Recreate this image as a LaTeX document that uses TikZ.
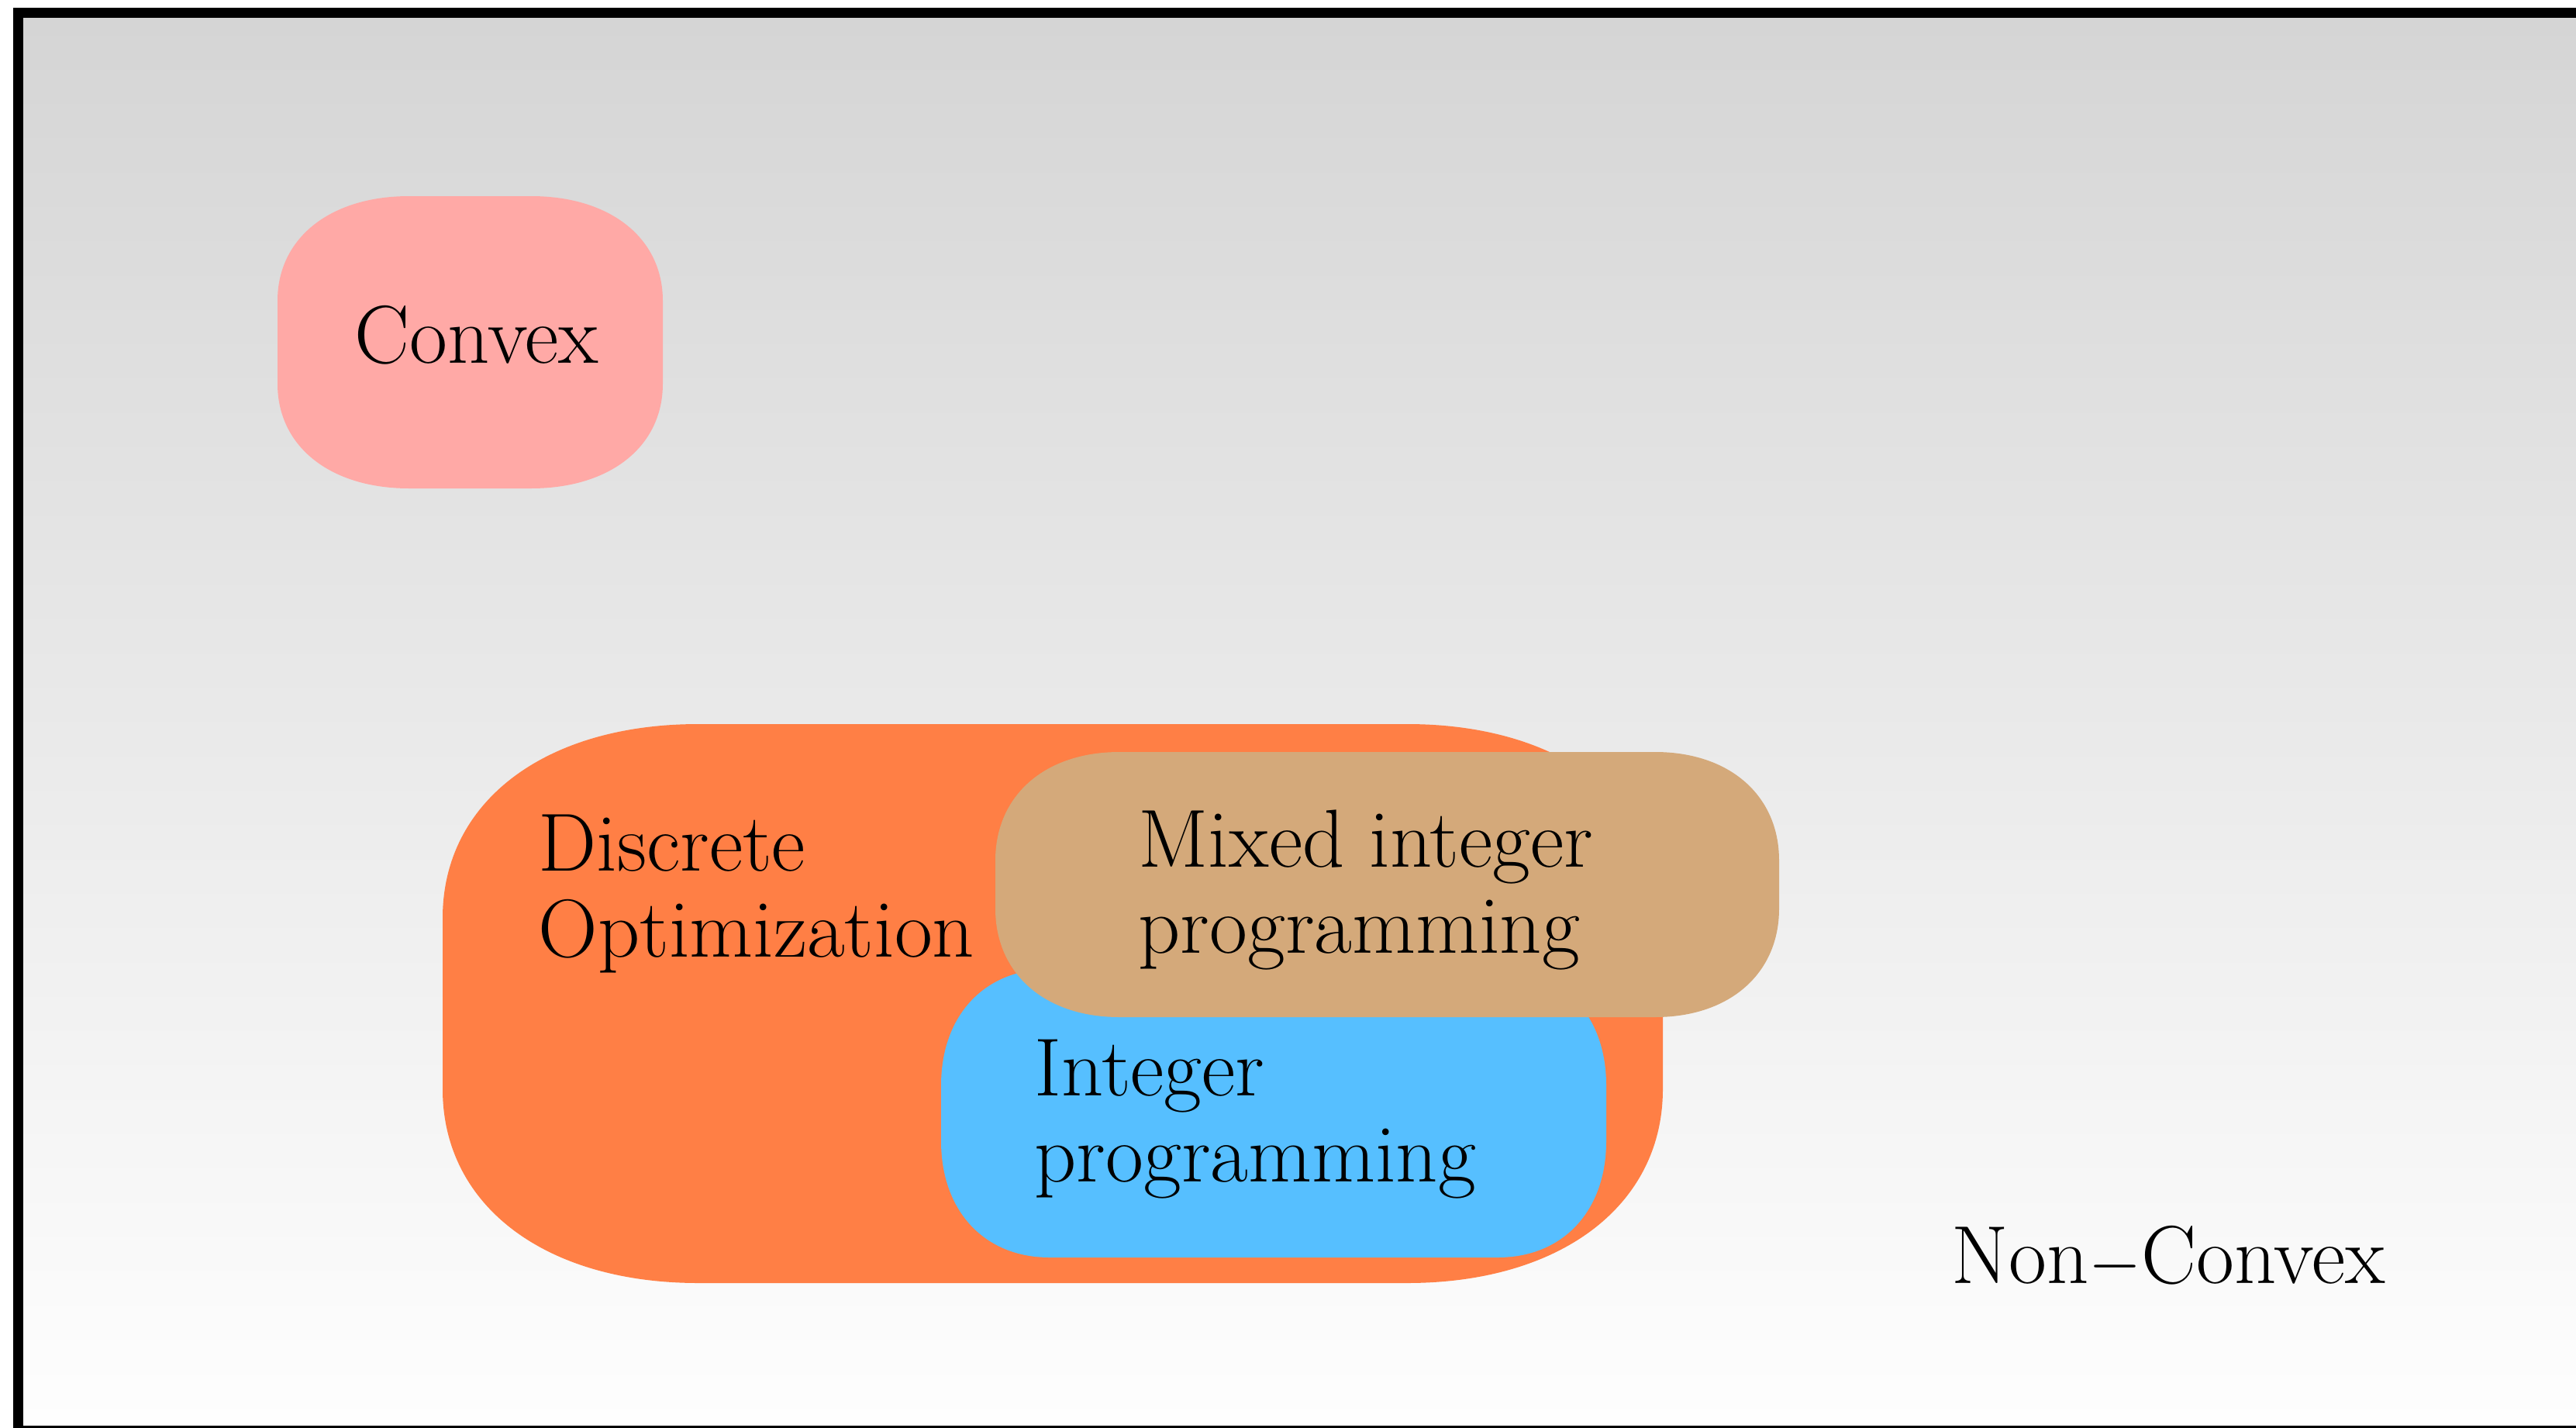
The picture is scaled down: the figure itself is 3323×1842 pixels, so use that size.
\documentclass[tikz,border=0pt]{standalone}
\definecolor{bgtop}{HTML}{D5D5D5}
\definecolor{bgbot}{HTML}{FEFEFE}
\definecolor{convexc}{HTML}{FFA9A6}
\definecolor{discc}{HTML}{FF7F45}
\definecolor{mixc}{HTML}{D4A97A}
\definecolor{intc}{HTML}{56BFFF}
% #1 (opt) 1-k, #2 colour, #3 x1, #4 top, #5 x2, #6 bottom, #7 rx, #8 ry
\newcommand{\softbox}[8][0.4]{%
 \fill[#2] ({#3+#7},#4) -- ({#5-#7},#4)
  .. controls ({#5-#1*#7},#4) and (#5,{#4+#1*#8}) .. (#5,{#4+#8})
  -- (#5,{#6-#8})
  .. controls (#5,{#6-#1*#8}) and ({#5-#1*#7},#6) .. ({#5-#7},#6)
  -- ({#3+#7},#6)
  .. controls ({#3+#1*#7},#6) and (#3,{#6-#1*#8}) .. (#3,{#6-#8})
  -- (#3,{#4+#8})
  .. controls (#3,{#4+#1*#8}) and ({#3+#1*#7},#4) .. ({#3+#7},#4) -- cycle;}
\begin{document}
\begin{tikzpicture}[x=0.01cm,y=-0.01cm,
  lbl/.style={inner sep=0pt, font=\fontsize{30.2}{31.3}\selectfont, align=left, anchor=base west}]
\useasboundingbox (0,0) rectangle (3323,1842);
\fill[white] (0,0) rectangle (3323,1842);
\shade[top color=bgtop, bottom color=bgbot] (30,23) rectangle (3323,1839);
\fill[black] (17,10) rectangle (3323,23);
\fill[black] (17,10) rectangle (30,1842);
\fill[black] (17,1839) rectangle (3323,1842);
% shapes
\softbox{convexc}{358}{253}{855}{630}{170}{135}
\softbox{discc}{571}{934}{2145}{1655}{330}{250}
\softbox{intc}{1214}{1250}{2072}{1622}{140}{150}
\softbox{mixc}{1284}{970}{2295}{1312}{160}{140}
% labels (base anchor = baseline of last line)
\node[lbl] (convex) at (457,468) {Convex};
\node[lbl] (disc) at (694,1234) {Discrete\\Optimization};
\node[lbl] (mixed) at (1468,1229) {Mixed integer\\programming};
\node[lbl] (integer) at (1334,1524) {Integer\\programming};
\node[lbl] (nonconvex) at (2517,1655) {Non$-$Convex};
\end{tikzpicture}
\end{document}
